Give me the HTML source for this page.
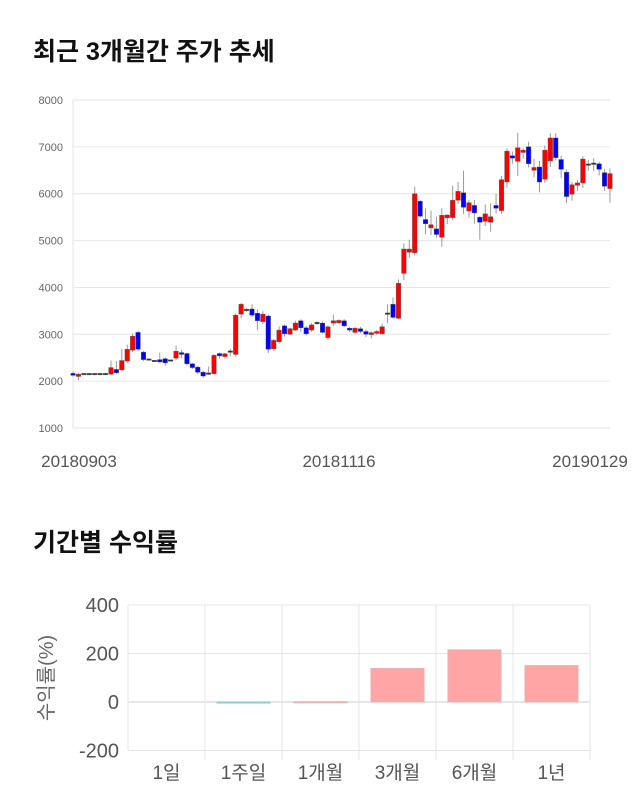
<!DOCTYPE html>
<html><head><meta charset="utf-8">
<style>
body{margin:0;background:#fff;width:640px;height:810px;overflow:hidden;font-family:"Liberation Sans","Noto Sans CJK KR",sans-serif;}
.t{position:absolute;left:33px;font-size:25px;font-weight:bold;color:#111;font-family:"Liberation Sans","Noto Sans CJK KR",sans-serif;line-height:30px;}
</style></head><body>
<div class="t" style="top:37px">최근 3개월간 주가 추세</div>
<div class="t" style="top:528px">기간별 수익률</div>
<svg id="c" width="640" height="810" style="position:absolute;left:0;top:0" xmlns="http://www.w3.org/2000/svg" font-family="Liberation Sans, Noto Sans CJK KR, sans-serif"></svg>
<script>
var s=document.getElementById('c'),h='';
function Y(v){return 100+(8000-v)*0.04686;}
for(var v=1000;v<=8000;v+=1000){var y=Y(v);h+='<line x1="73" x2="610" y1="'+y+'" y2="'+y+'" stroke="#e6e6e6"/>';h+='<text x="63" y="'+(y+4)+'" font-size="11" fill="#666" text-anchor="end">'+v+'</text>';}
h+='<line x1="73" x2="73" y1="100" y2="428" stroke="#e6e6e6"/>';
h+='<text x="79" y="467" font-size="17" fill="#555" text-anchor="middle">20180903</text>';
h+='<text x="339" y="467" font-size="17" fill="#555" text-anchor="middle">20181116</text>';
h+='<text x="590" y="467" font-size="17" fill="#555" text-anchor="middle">20190129</text>';
var d=[[2150,2140],[2100,2150],[2150,2150],[2150,2150],[2150,2150],[2150,2150],[2150,2150],[2150,2290],[2250,2180],[2240,2440],[2430,2680],[2660,2960],[3040,2680],[2620,2460],[2460,2460],[2430,2430],[2460,2410],[2480,2390],[2440,2440],[2490,2640],[2610,2570],[2590,2370],[2370,2290],[2300,2190],[2190,2110],[2160,2160],[2160,2550],[2590,2540],[2540,2570],[2630,2630],[2570,3410],[3430,3640],[3520,3520],[3540,3410],[3450,3290],[3270,3430],[3390,2680],[2690,2870],[2840,3090],[3180,3010],[3000,3120],[3090,3240],[3290,3140],[3140,3010],[3090,3200],[3240,3240],[3240,3040],[2930,3160],[3240,3290],[3260,3280],[3290,3180],[3130,3090],[3040,3130],[3120,3060],[3060,3000],[3010,3020],[3020,3060],[3010,3160],[3440,3440],[3640,3360],[3340,4090],[4300,4820],[4750,4820],[4740,6000],[5840,5520],[5450,5360],[5270,5340],[5250,5130],[5070,5540],[5500,5530],[5490,5860],[5860,6050],[6020,5710],[5630,5810],[5750,5590],[5500,5390],[5410,5570],[5390,5510],[5750,5690],[5640,6300],[6250,6910],[6810,6760],[6690,6980],[6880,6930],[7000,6640],[6500,6560],[6570,6250],[6310,6930],[6700,7190],[7190,6770],[6730,6520],[6460,5940],[5990,6190],[6180,6230],[6230,6740],[6620,6620],[6640,6640],[6640,6520],[6450,6160],[6110,6430]];
var wk=[[60,40],[30,80],[20,20],[20,20],[20,20],[20,20],[30,20],[150,20],[180,30],[250,30],[100,40],[60,40],[40,30],[20,30],[20,20],[20,20],[150,20],[30,60],[20,20],[120,40],[60,80],[20,30],[20,30],[20,40],[30,40],[150,30],[30,20],[20,60],[30,60],[60,90],[30,50],[30,90],[40,40],[100,40],[80,200],[60,50],[30,80],[30,40],[80,40],[30,60],[20,20],[50,20],[30,90],[40,40],[40,40],[40,40],[30,20],[30,50],[130,60],[40,40],[30,30],[30,40],[30,40],[40,40],[40,60],[40,100],[30,30],[60,20],[200,200],[150,20],[80,20],[120,140],[200,120],[150,60],[30,30],[240,220],[300,150],[260,70],[150,200],[30,150],[310,50],[200,80],[470,140],[60,140],[120,230],[20,370],[200,100],[280,200],[250,110],[80,70],[60,120],[90,120],[320,310],[40,130],[110,80],[180,150],[130,220],[100,80],[100,130],[100,60],[80,180],[60,140],[60,140],[60,120],[60,110],[100,130],[120,160],[40,130],[80,100],[110,300]];
for(var i=0;i<d.length;i++){var x=73+i*5.424,o=d[i][0],c=d[i][1],hi=Math.max(o,c)+wk[i][0],lo=Math.min(o,c)-wk[i][1];
h+='<line x1="'+x+'" x2="'+x+'" y1="'+Y(hi)+'" y2="'+Y(lo)+'" stroke="#999"/>';
var col=c>o?'#f00':(c<o?'#00f':'#333');var t=Y(Math.max(o,c)),b=Y(Math.min(o,c));if(b-t<1.5){t-=0.75;b+=0.75;}
h+='<rect x="'+(x-2.3)+'" y="'+t+'" width="4.6" height="'+(b-t)+'" fill="'+col+'" stroke="#555" stroke-width="0.4"/>';}
function Z(v){return 702-v*0.2425;}
[400,200,0,-200].forEach(function(v){var y=Z(v);h+='<line x1="128" x2="590" y1="'+y+'" y2="'+y+'" stroke="'+(v==0?'#ccc':'#e6e6e6')+'"/>';h+='<text x="119" y="'+(y+7)+'" font-size="20" fill="#555" text-anchor="end">'+v+'</text>';});
var L=['1일','1주일','1개월','3개월','6개월','1년'],V=[0,-1,1,138,215,150];
for(var k=0;k<=6;k++){var x=128+k*77;h+='<line x1="'+x+'" x2="'+x+'" y1="605" y2="'+(k==0?750:760)+'" stroke="#e6e6e6"/>';}
for(var k=0;k<6;k++){var cx=166.5+k*77;h+='<text x="'+cx+'" y="779" font-size="19" fill="#555" text-anchor="middle">'+L[k]+'</text>';
var v=V[k];if(k>0){var col=v<0?'#9fd8de':'#ffa5a5';var y0=Math.min(Z(v),702),hh=Math.max(Math.abs(Z(v)-702),1);h+='<rect x="'+(cx-26.5)+'" y="'+y0+'" width="53" height="'+hh+'" fill="'+col+'" stroke="'+(v<0?'#8cc':'#e8b0b0')+'" stroke-width="1"/>';}}
h+='<text transform="translate(53,678) rotate(-90)" font-size="20" fill="#666" text-anchor="middle">수익률(%)</text>';
s.innerHTML=h;
</script>
</body></html>
